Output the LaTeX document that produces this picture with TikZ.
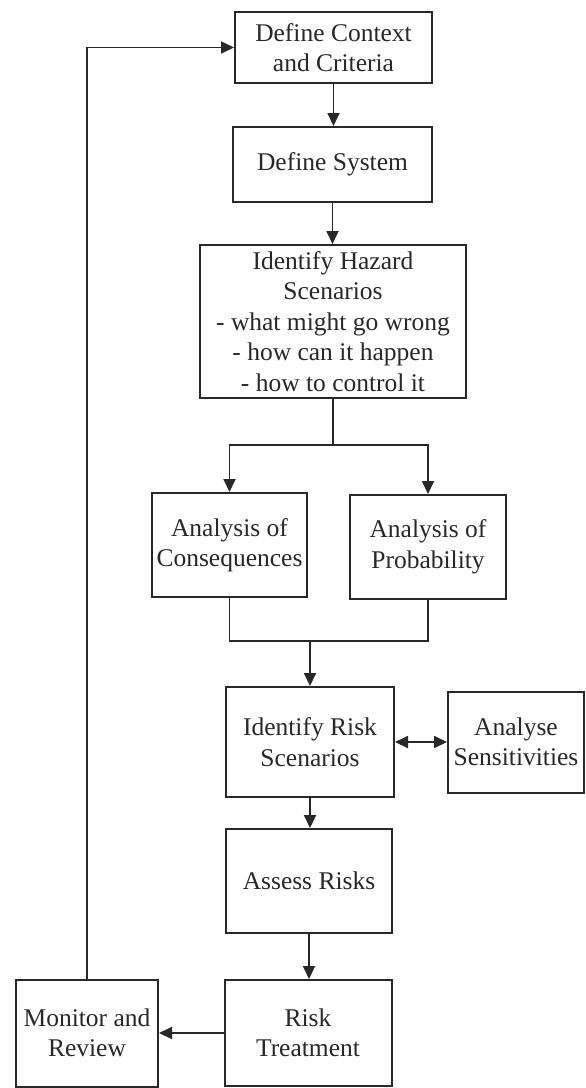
\documentclass[tikz,border=0pt]{standalone}
\usepackage{fontspec}
\setmainfont{Liberation Serif}
\usetikzlibrary{arrows.meta}
\definecolor{ink}{RGB}{40,40,40}
\tikzset{
  box/.style={draw=ink, line width=2pt, rectangle, inner sep=0pt, align=center,
    text=ink, font=\fontsize{25.5}{30.5}\selectfont},
  arr/.style={draw=ink, line width=1.8pt, -{Triangle[length=13pt,width=12pt]}},
  arrtwo/.style={draw=ink, line width=1.8pt, {Triangle[length=13pt,width=12pt]}-{Triangle[length=13pt,width=12pt]}},
  ln/.style={draw=ink, line width=1.8pt}
}
\begin{document}
\begin{tikzpicture}[x=1pt,y=-1pt]
\useasboundingbox (0,0) rectangle (586,1088);
\node[box, minimum width=197pt, minimum height=71pt] (ctx) at (333.5,47.5) {Define Context\\and Criteria};
\node[box, minimum width=199pt, minimum height=75pt] (sys) at (332.5,164.5) {Define System};
\node[box, minimum width=266pt, minimum height=153pt] (haz) at (333,321.5) {Identify Hazard\\Scenarios\\- what might go wrong\\- how can it happen\\- how to control it};
\node[box, minimum width=155pt, minimum height=104pt] (cons) at (229.5,545) {Analysis of\\Consequences};
\node[box, minimum width=156pt, minimum height=104pt] (prob) at (428,547) {Analysis of\\Probability};
\node[box, minimum width=168pt, minimum height=110pt] (idrisk) at (310,742) {Identify Risk\\Scenarios};
\node[box, minimum width=136pt, minimum height=101pt] (sens) at (516,742) {Analyse\\Sensitivities};
\node[box, minimum width=166pt, minimum height=104pt] (assess) at (309,881) {Assess Risks};
\node[box, minimum width=167pt, minimum height=106pt] (rt) at (308,1033) {Risk\\Treatment};
\node[box, minimum width=142pt, minimum height=107pt] (mon) at (87,1033) {Monitor and\\Review};
\coordinate (split) at (333,445);
\coordinate (merge) at (310,641);
\draw[arr] (ctx.south) -- (ctx.south |- sys.north);
\draw[arr] (sys.south) -- (sys.south |- haz.north);
\draw[ln] (haz.south) -- (split);
\draw[arr] (split) -| (cons.north);
\draw[arr] (split) -| (prob.north);
\draw[ln] (cons.south) |- (merge);
\draw[ln] (prob.south) |- (merge);
\draw[arr] (merge) -- (idrisk.north);
\draw[arrtwo] (idrisk.east) -- (sens.west);
\draw[arr] (idrisk.south) -- (idrisk.south |- assess.north);
\draw[arr] (assess.south) -- (assess.south |- rt.north);
\draw[arr] (rt.west) -- (mon.east);
\draw[arr] (mon.north) |- (ctx.west);
\end{tikzpicture}
\end{document}
